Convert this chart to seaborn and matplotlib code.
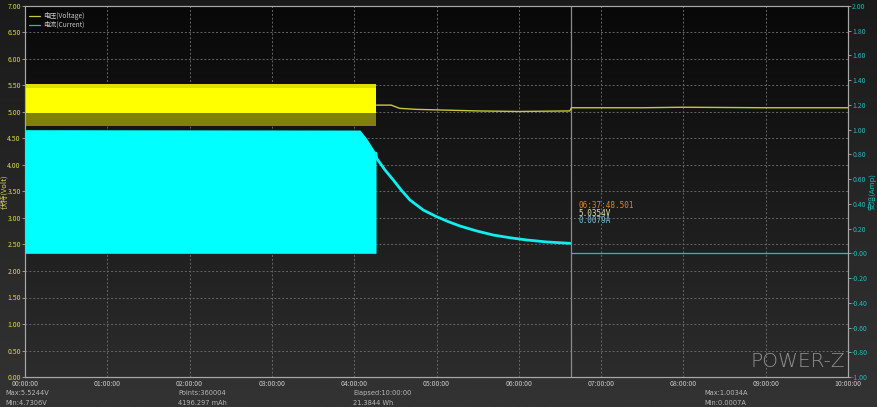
import numpy as np
import matplotlib
matplotlib.use("Agg")
import matplotlib.pyplot as plt
from matplotlib.colors import LinearSegmentedColormap
import seaborn as sns

# ---- data (time in hours) ----
hour_labels = ["00:00:00", "01:00:00", "02:00:00", "03:00:00", "04:00:00", "05:00:00",
               "06:00:00", "07:00:00", "08:00:00", "09:00:00", "10:00:00"]

# fast-switching phase, drawn as envelopes
band_t = [0.0, 4.27]
volt_band_top = [5.52, 5.52]
volt_band_core_top = [5.45, 5.45]
volt_band_core_low = [4.99, 4.99]
volt_band_low = [4.74, 4.74]

cur_block_t = [0.0, 4.07, 4.15, 4.265]
cur_block_top = [1.00, 0.997, 0.93, 0.81]

# voltage after the switching phase
volt_t = [4.27, 4.45, 4.55, 4.75, 5.0, 5.5, 6.0, 6.62, 6.64, 7.5, 8.0, 8.5, 9.0, 10.0]
volt_v = [5.13, 5.13, 5.07, 5.05, 5.04, 5.02, 5.01, 5.02, 5.08, 5.08, 5.09, 5.085, 5.08, 5.08]

# current decay and idle
cur_t = [4.265, 4.273, 4.374, 4.475, 4.577, 4.678, 4.84, 5.002, 5.144, 5.285,
         5.488, 5.69, 5.893, 6.096, 6.339, 6.622]
cur_a = [0.81, 0.769, 0.674, 0.593, 0.507, 0.431, 0.350, 0.296, 0.256, 0.221,
         0.181, 0.148, 0.126, 0.108, 0.092, 0.081]
idle_t = [6.63, 10.0]
idle_a = [0.0, 0.0]

cursor_t = 6.63
cursor_text = ["06:37:48.501", "5.0354V", "0.0079A"]

footer = [
    (5, 393, "Max:5.5244V"), (5, 403, "Min:4.7306V"),
    (178, 393, "Points:360004"), (178, 403, "4196.297 mAh"),
    (353, 393, "Elapsed:10:00:00"), (353, 403, "21.3844 Wh"),
    (704, 393, "Max:1.0034A"), (704, 403, "Min:0.0007A"),
]

sns.set_style("dark")
plt.rcParams["font.family"] = ["Noto Sans CJK SC", "DejaVu Sans"]

W, H = 877, 407
fig = plt.figure(figsize=(W / 100, H / 100), dpi=100)
grad = np.linspace(0, 1, 256).reshape(-1, 1)

# figure background gradient
bg = fig.add_axes([0, 0, 1, 1], zorder=-10)
bg.imshow(grad, aspect="auto", extent=[0, 1, 0, 1],
          cmap=LinearSegmentedColormap.from_list("bgf", ["#1a1a1a", "#333333"]))
bg.set_axis_off()

ax = fig.add_axes([25 / W, 1 - 377 / H, 823 / W, 371 / H])
ax.imshow(grad, aspect="auto", extent=[0, 10, 0, 7],
          cmap=LinearSegmentedColormap.from_list("bga", ["#080808", "#2c2c2c"]), zorder=0)
ax.set_xlim(0, 10)
ax.set_ylim(0, 7)

# grid
for h in range(1, 10):
    ax.axvline(h, color="#666666", lw=0.7, ls=(0, (2, 2)), zorder=1)
for v in np.arange(0.5, 7.0, 0.5):
    ax.axhline(v, color="#666666", lw=0.7, ls=(0, (2, 2)), zorder=1)

ax2 = ax.twinx()
ax2.set_ylim(-1, 2)

# current block + decay
ax2.fill_between(cur_block_t, 0, cur_block_top, color="#00ffff", lw=0, zorder=3)
sns.lineplot(x=cur_t, y=cur_a, ax=ax2, color="#10eeee", lw=2.0, zorder=4)
sns.lineplot(x=idle_t, y=idle_a, ax=ax2, color="#10c8c8", lw=0.9, zorder=4)

# voltage band + tail
ax.fill_between(band_t, volt_band_core_low, volt_band_core_top, color="#ffff00", lw=0, zorder=5)
ax.fill_between(band_t, volt_band_core_top, volt_band_top, color="#e0e000", lw=0, zorder=5)
ax.fill_between(band_t, volt_band_low, volt_band_core_low, color="#80800a", lw=0, zorder=5)
sns.lineplot(x=volt_t, y=volt_v, ax=ax, color="#c8c83a", lw=1.0, zorder=6)

# cursor
ax.axvline(cursor_t, color="#8a8a8a", lw=0.9, zorder=2)
for i, (s, c) in enumerate(zip(cursor_text, ["#e0862a", "#e6e6b0", "#7ec4e0"])):
    ax.text(cursor_t + 0.09, 3.23 - i * 0.14, s, color=c, fontsize=5.5,
            family="DejaVu Sans Mono", va="center", zorder=7)

# axes styling
ax.set_xticks(range(11))
ax.set_xticklabels(hour_labels)
ax.set_yticks(np.arange(0, 7.01, 0.5))
ax.set_yticklabels([f"{v:.2f}" for v in np.arange(0, 7.01, 0.5)])
ax2.set_yticks(np.arange(-1, 2.01, 0.2))
ax2.set_yticklabels([f"{v:.2f}" for v in np.arange(-1, 2.01, 0.2)])
ax.tick_params(axis="x", colors="#c8c8c8", labelsize=5, length=0, pad=2.5)
ax.tick_params(axis="y", labelcolor="#d8d84a", color="#aaaaaa", labelsize=5, length=2, pad=1, width=0.6)
ax2.tick_params(axis="y", labelcolor="#20b8b8", color="#aaaaaa", labelsize=5, length=2, pad=1, width=0.6)
for a in (ax, ax2):
    a.grid(False)
    for sp in a.spines.values():
        sp.set_color("#a8a8a8")
        sp.set_linewidth(0.8)
ax.set_xlabel("")
ax.set_ylabel("伏特(Volt)", color="#d8d84a", fontsize=5.5)
ax2.set_ylabel("安培(Amp)", color="#20b8b8", fontsize=5.5)
ax.yaxis.set_label_coords(-0.02, 0.5)
ax2.yaxis.set_label_coords(1.024, 0.5)

# legend
ax.plot([0.05, 0.18], [6.82, 6.82], color="#c8c83a", lw=0.9, zorder=7)
ax.plot([0.05, 0.18], [6.65, 6.65], color="#20b8c8", lw=0.9, zorder=7)
ax.text(0.22, 6.82, "电压(Voltage)", color="#c8c8c8", fontsize=4.8, va="center", zorder=7)
ax.text(0.22, 6.65, "电流(Current)", color="#c8c8c8", fontsize=4.8, va="center", zorder=7)

# watermark
ax.text(9.96, 0.29, "POWER-Z", color="#909090", fontsize=14.5, ha="right", va="center",
        family="DejaVu Sans", fontweight="light", zorder=7)

# footer
for x, y, s in footer:
    fig.text(x / W, 1 - y / H, s, color="#b8b8b8", fontsize=4.8, va="center", family="DejaVu Sans")

fig.savefig("out.png", dpi=100)
